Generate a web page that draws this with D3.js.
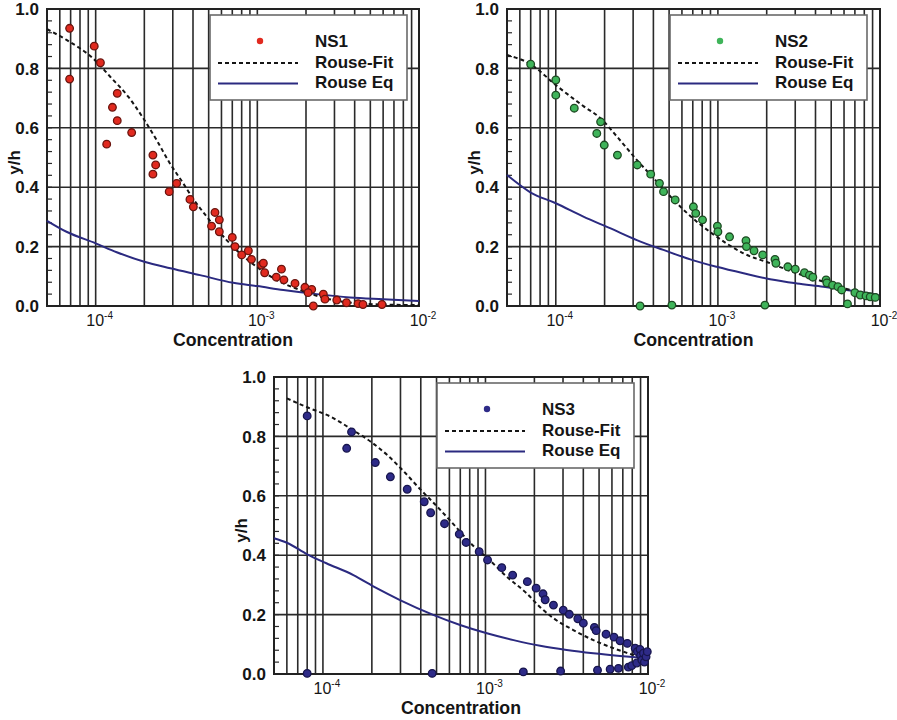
<!DOCTYPE html>
<html>
<head>
<meta charset="utf-8">
<script src="https://cdn.jsdelivr.net/npm/d3@7"></script>
<style>
  body { margin: 0; background: #fff; }
  svg { display: block; }
  text { font-family: "Liberation Sans", Arial, Helvetica, sans-serif; fill: #151515; }
</style>
</head>
<body>
<svg id="chart" width="897" height="720"></svg>
<script>
// ---- axis set-up shared by all three panels ----
const xDomain = [5e-5, 1e-2];
const yDomain = [0, 1];
const yTickValues = [0, 0.2, 0.4, 0.6, 0.8, 1.0];
const xDecades = [1e-4, 1e-3, 1e-2];
const xDecadeExponents = ["-4", "-3", "-2"];
const xAxisTitle = "Concentration";
const yAxisTitle = "y/h";
const legendLabels = ["Rouse-Fit", "Rouse Eq"];
const seriesNames = ["NS1", "NS2", "NS3"];
const seriesColors = ["#e12a1f", "#3fb45a", "#2e2b88"];
const seriesStrokes = ["#6a140e", "#1d4a22", "#17154d"];

// ---- NS1: measured points [concentration, y/h] ----
const ns1Points = [
  [6.9e-5, 0.935], [6.9e-5, 0.764], [9.8e-5, 0.875], [1.07e-4, 0.819], [1.36e-4, 0.716],
  [1.27e-4, 0.669], [1.36e-4, 0.624], [1.67e-4, 0.584], [1.17e-4, 0.545], [2.26e-4, 0.508],
  [2.35e-4, 0.475], [2.26e-4, 0.444], [2.85e-4, 0.385], [3.17e-4, 0.413], [3.83e-4, 0.359],
  [4.02e-4, 0.334], [5.21e-4, 0.269], [5.47e-4, 0.315], [5.82e-4, 0.29], [5.82e-4, 0.25],
  [7.0e-4, 0.231], [7.28e-4, 0.2], [8.0e-4, 0.172], [8.8e-4, 0.186], [9.2e-4, 0.157],
  [1.06e-3, 0.138], [1.09e-3, 0.144], [1.11e-3, 0.112], [1.31e-3, 0.097], [1.41e-3, 0.124],
  [1.46e-3, 0.088], [1.71e-3, 0.076], [1.97e-3, 0.063], [2.17e-3, 0.056], [2.22e-3, 0.0],
  [2.06e-3, 0.045], [2.56e-3, 0.04], [2.62e-3, 0.023], [3.1e-3, 0.02], [3.56e-3, 0.011],
  [4.2e-3, 0.008], [4.5e-3, 0.005], [5.9e-3, 0.005]
];
const ns1Fit = [
  [5e-5, 0.932], [6.6e-5, 0.896], [9.8e-5, 0.83], [1.23e-4, 0.772], [1.59e-4, 0.705],
  [1.97e-4, 0.632], [2.38e-4, 0.559], [2.88e-4, 0.48], [3.48e-4, 0.413], [3.93e-4, 0.368],
  [4.86e-4, 0.301], [6.46e-4, 0.222], [7.82e-4, 0.177], [9.9e-4, 0.132], [1.31e-3, 0.088],
  [1.84e-3, 0.054], [2.33e-3, 0.034], [2.95e-3, 0.02], [4.74e-3, 0.007], [1e-2, 0.003]
];
const ns1Eq = [
  [5e-5, 0.287], [6.6e-5, 0.25], [1e-4, 0.211], [1.35e-4, 0.181], [2e-4, 0.149],
  [2.9e-4, 0.127], [4.42e-4, 0.104], [7.1e-4, 0.078], [1e-3, 0.067], [1.45e-3, 0.054],
  [2.33e-3, 0.04], [3.74e-3, 0.029], [6.0e-3, 0.023], [1e-2, 0.017]
];

// ---- NS2 ----
const ns2Points = [
  [7.0e-5, 0.814], [1.0e-4, 0.761], [1.0e-4, 0.71], [1.3e-4, 0.666], [1.89e-4, 0.62],
  [1.79e-4, 0.581], [1.99e-4, 0.542], [2.4e-4, 0.508], [3.18e-4, 0.475], [3.31e-4, 0.0],
  [3.85e-4, 0.444], [4.36e-4, 0.413], [4.62e-4, 0.385], [5.2e-4, 0.003], [5.45e-4, 0.357],
  [7.06e-4, 0.334], [7.3e-4, 0.312], [8.04e-4, 0.29], [9.93e-4, 0.269], [1.0e-3, 0.25],
  [1.18e-3, 0.233], [1.49e-3, 0.22], [1.5e-3, 0.2], [1.67e-3, 0.186], [1.89e-3, 0.172],
  [1.95e-3, 0.003], [2.25e-3, 0.157], [2.28e-3, 0.144], [2.7e-3, 0.132], [3.0e-3, 0.124],
  [3.42e-3, 0.112], [3.67e-3, 0.104], [3.85e-3, 0.097], [4.65e-3, 0.088], [4.7e-3, 0.078],
  [5.1e-3, 0.07], [5.5e-3, 0.065], [5.8e-3, 0.054], [6.3e-3, 0.007], [7.0e-3, 0.045],
  [7.55e-3, 0.037], [8.2e-3, 0.034], [8.7e-3, 0.031], [9.35e-3, 0.029]
];
const ns2Fit = [
  [5e-5, 0.845], [7.0e-5, 0.814], [1.0e-4, 0.744], [1.48e-4, 0.673], [1.89e-4, 0.632],
  [2.43e-4, 0.565], [3.16e-4, 0.492], [4.2e-4, 0.419], [5.58e-4, 0.346], [7.41e-4, 0.284],
  [9.84e-4, 0.233], [1.44e-3, 0.177], [2.1e-3, 0.144], [3.07e-3, 0.11], [4.48e-3, 0.082],
  [6.55e-3, 0.054], [9.8e-3, 0.037]
];
const ns2Eq = [
  [5e-5, 0.441], [7.0e-5, 0.382], [1.0e-4, 0.346], [1.48e-4, 0.301], [2.16e-4, 0.262],
  [3.16e-4, 0.222], [4.61e-4, 0.189], [6.75e-4, 0.157], [9.84e-4, 0.132], [1.44e-3, 0.11],
  [2.1e-3, 0.09], [3.07e-3, 0.076], [4.48e-3, 0.065], [6.55e-3, 0.052], [9.8e-3, 0.037]
];

// ---- NS3 ----
const ns3Points = [
  [8.0e-5, 0.869], [8.0e-5, 0.002], [1.4e-4, 0.76], [1.5e-4, 0.815], [2.1e-4, 0.712],
  [2.6e-4, 0.664], [3.3e-4, 0.622], [4.2e-4, 0.58], [4.6e-4, 0.543], [4.7e-4, 0.002],
  [5.6e-4, 0.506], [6.9e-4, 0.471], [7.6e-4, 0.443], [9.15e-4, 0.412], [1.03e-3, 0.384],
  [1.26e-3, 0.358], [1.47e-3, 0.333], [1.71e-3, 0.007], [1.81e-3, 0.311], [2.05e-3, 0.289],
  [2.26e-3, 0.27], [2.33e-3, 0.25], [2.62e-3, 0.232], [2.9e-3, 0.01], [3.01e-3, 0.215],
  [3.28e-3, 0.201], [3.7e-3, 0.186], [4.0e-3, 0.171], [4.68e-3, 0.157], [4.8e-3, 0.146],
  [4.89e-3, 0.013], [5.52e-3, 0.134], [5.85e-3, 0.016], [6.18e-3, 0.124], [6.58e-3, 0.019],
  [6.73e-3, 0.112], [7.46e-3, 0.103], [7.57e-3, 0.023], [7.94e-3, 0.028], [8.34e-3, 0.087],
  [8.53e-3, 0.037], [8.6e-3, 0.075], [8.93e-3, 0.083], [9.0e-3, 0.062], [9.16e-3, 0.047],
  [9.38e-3, 0.07], [9.5e-3, 0.04], [9.73e-3, 0.058], [9.9e-3, 0.075]
];
const ns3Fit = [
  [6e-5, 0.928], [8e-5, 0.898], [1.12e-4, 0.866], [1.5e-4, 0.824], [1.97e-4, 0.782],
  [2.49e-4, 0.737], [3.01e-4, 0.693], [4.0e-4, 0.62], [5.06e-4, 0.563], [6.41e-4, 0.502],
  [8.51e-4, 0.429], [1.03e-3, 0.39], [1.35e-3, 0.328], [1.79e-3, 0.272], [2.17e-3, 0.225],
  [2.62e-3, 0.188], [3.47e-3, 0.148], [4.61e-3, 0.114], [6.12e-3, 0.087], [8.13e-3, 0.064],
  [1e-2, 0.047]
];
const ns3Eq = [
  [5e-5, 0.457], [6e-5, 0.442], [8e-5, 0.403], [1.05e-4, 0.373], [1.54e-4, 0.333],
  [2.14e-4, 0.289], [2.98e-4, 0.249], [4.77e-4, 0.199], [6.98e-4, 0.165], [1.02e-3, 0.137],
  [1.49e-3, 0.114], [2.17e-3, 0.095], [3.16e-3, 0.081], [4.61e-3, 0.07], [6.73e-3, 0.061],
  [1e-2, 0.053]
];

const panels = [
  { name: seriesNames[0], points: ns1Points, fit: ns1Fit, eq: ns1Eq, color: seriesColors[0], stroke: seriesStrokes[0],
    left: 47, top: 9, width: 372, height: 297 },
  { name: seriesNames[1], points: ns2Points, fit: ns2Fit, eq: ns2Eq, color: seriesColors[1], stroke: seriesStrokes[1],
    left: 507, top: 9, width: 373, height: 297 },
  { name: seriesNames[2], points: ns3Points, fit: ns3Fit, eq: ns3Eq, color: seriesColors[2], stroke: seriesStrokes[2],
    left: 274, top: 377, width: 374, height: 297 }
];

const svg = d3.select("#chart");
const gridColor = "#2a2a2a";
const eqColor = "#2b2a80";

function drawPanel(p) {
  const g = svg.append("g").attr("transform", `translate(${p.left},${p.top})`);
  const x = d3.scaleLog().domain(xDomain).range([0, p.width]);
  const y = d3.scaleLinear().domain(yDomain).range([p.height, 0]);

  // vertical grid at every log sub-division
  const xGrid = x.ticks().filter(v => v > xDomain[0] * 1.0001 && v < xDomain[1] * 0.9999);
  g.append("g").selectAll("line").data(xGrid).join("line")
    .attr("x1", d => x(d)).attr("x2", d => x(d))
    .attr("y1", 0).attr("y2", p.height)
    .attr("stroke", gridColor).attr("stroke-width", 1.6);

  // horizontal grid
  g.append("g").selectAll("line").data(yTickValues.slice(1, -1)).join("line")
    .attr("x1", 0).attr("x2", p.width)
    .attr("y1", d => y(d)).attr("y2", d => y(d))
    .attr("stroke", gridColor).attr("stroke-width", 1.6);

  // small inward ticks on the left edge
  const yMinor = d3.range(0, 1.0001, 0.04).map(v => +v.toFixed(2));
  g.append("g").selectAll("line").data(yMinor).join("line")
    .attr("x1", 0).attr("x2", 5)
    .attr("y1", d => y(d)).attr("y2", d => y(d))
    .attr("stroke", gridColor).attr("stroke-width", 1.2);

  // frame
  g.append("rect").attr("x", 0).attr("y", 0).attr("width", p.width).attr("height", p.height)
    .attr("fill", "none").attr("stroke", "#222").attr("stroke-width", 2);

  // y tick labels
  g.append("g").selectAll("text").data(yTickValues).join("text")
    .attr("x", -8).attr("y", d => y(d)).attr("dy", "0.36em")
    .attr("text-anchor", "end").attr("font-size", 17).attr("font-weight", "bold")
    .text(d => d3.format(".1f")(d));

  // x decade labels with superscript exponent
  const xl = g.append("g").selectAll("text").data(xDecades).join("text")
    .attr("x", (d, i) => x(d) + 4).attr("y", p.height + 20)
    .attr("text-anchor", "middle").attr("font-size", 16);
  xl.append("tspan").text("10");
  xl.append("tspan").attr("dy", -7).attr("font-size", 10).text((d, i) => xDecadeExponents[i]);

  // axis titles
  g.append("text").attr("x", p.width / 2).attr("y", p.height + 40)
    .attr("text-anchor", "middle").attr("font-size", 18).attr("font-weight", "bold")
    .attr("textLength", 120).attr("lengthAdjust", "spacingAndGlyphs")
    .text(xAxisTitle);
  g.append("text")
    .attr("transform", `translate(-27,${p.height / 2 + 5}) rotate(-90)`)
    .attr("text-anchor", "middle").attr("font-size", 17).attr("font-weight", "bold")
    .text(yAxisTitle);

  // curves
  const line = d3.line().x(d => x(d[0])).y(d => y(d[1])).curve(d3.curveMonotoneX);
  g.append("path").datum(p.eq).attr("d", line)
    .attr("fill", "none").attr("stroke", eqColor).attr("stroke-width", 2);
  g.append("path").datum(p.fit).attr("d", line)
    .attr("fill", "none").attr("stroke", "#151515").attr("stroke-width", 2)
    .attr("stroke-dasharray", "4,3");

  // measured points
  g.append("g").selectAll("circle").data(p.points).join("circle")
    .attr("cx", d => x(d[0])).attr("cy", d => y(d[1])).attr("r", 3.8)
    .attr("fill", p.color).attr("stroke", p.stroke).attr("stroke-width", 1.3);

  // legend
  const lg = g.append("g").attr("transform", `translate(${163},${6})`);
  lg.append("rect").attr("width", 197).attr("height", 85)
    .attr("fill", "#fff").attr("stroke", "#6a6a6a").attr("stroke-width", 1.6);
  lg.append("circle").attr("cx", 50).attr("cy", 26).attr("r", 3.2).attr("fill", p.color);
  lg.append("line").attr("x1", 8).attr("x2", 88).attr("y1", 48).attr("y2", 48)
    .attr("stroke", "#151515").attr("stroke-width", 2).attr("stroke-dasharray", "4,3");
  lg.append("line").attr("x1", 8).attr("x2", 88).attr("y1", 68.5).attr("y2", 68.5)
    .attr("stroke", eqColor).attr("stroke-width", 2);
  const labels = [p.name].concat(legendLabels);
  lg.selectAll("text.lab").data(labels).join("text").attr("class", "lab")
    .attr("x", 105).attr("y", (d, i) => 32 + i * 20.5)
    .attr("font-size", 17).attr("font-weight", "bold")
    .text(d => d);
}

panels.forEach(drawPanel);
</script>
</body>
</html>
